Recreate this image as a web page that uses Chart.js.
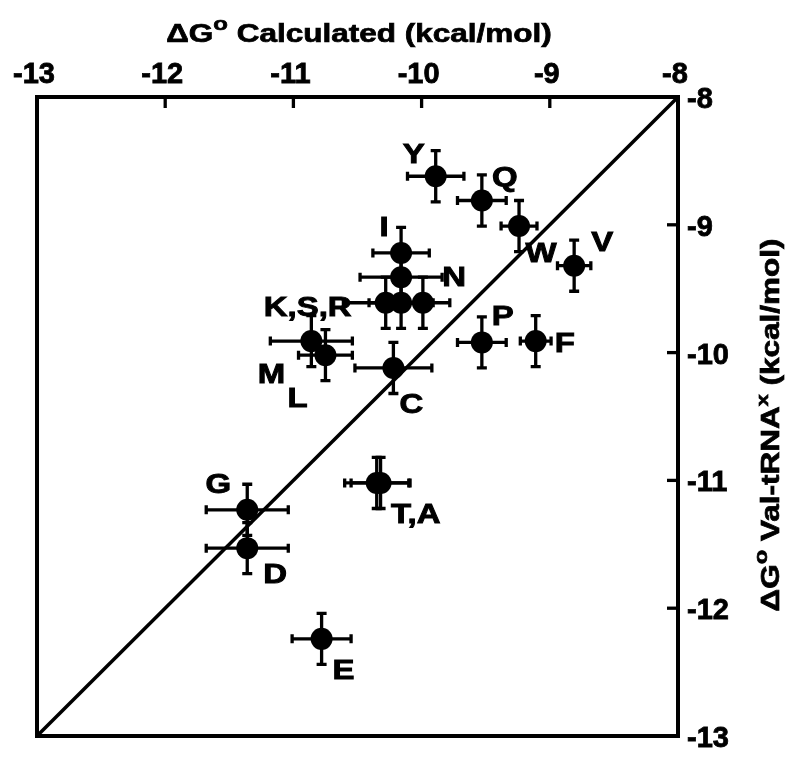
<!DOCTYPE html>
<html>
<head>
<meta charset="utf-8">
<script src="https://cdn.jsdelivr.net/npm/chart.js@4.4.1/dist/chart.umd.min.js"></script>
<style>
html,body{margin:0;padding:0;background:#fff;}
#wrap{width:800px;height:763px;position:relative;}
</style>
</head>
<body>
<div id="wrap"><canvas id="c" width="800" height="763"></canvas></div>
<script>
// ---- data ----
const residues   = ['Y','Q','W','V','I','N','K','S','R','M','L','C','P','F','G','D','T','A','E'];
const calcDG     = [-9.89,-9.53,-9.24,-8.81,-10.16,-10.16,-10.28,-10.16,-9.99,-10.86,-10.75,-10.22,-9.53,-9.11,-11.36,-11.36,-10.35,-10.32,-10.78];
const measuredDG = [-8.62,-8.81,-9.01,-9.32,-9.22,-9.41,-9.61,-9.61,-9.61,-9.91,-10.02,-10.12,-9.92,-9.91,-11.23,-11.53,-11.02,-11.02,-12.24];
const calcErr    = [0.22,0.19,0.14,0.13,0.22,0.32,0.33,0.25,0.21,0.32,0.21,0.30,0.19,0.12,0.32,0.32,0.25,0.23,0.23];
const measuredErr= [0.20,0.20,0.20,0.20,0.20,0.20,0.20,0.20,0.20,0.20,0.20,0.20,0.20,0.20,0.20,0.20,0.20,0.20,0.20];
const pointLabels= ['Y','Q','W','V','I','N','K,S,R','','','M','L','C','P','F','G','D','T,A','','E'];
const axisTicks  = [-13,-12,-11,-10,-9,-8];
const identityLine = [-13,-8];

// ---- layout (pixel offsets of labels from their point) ----
const labelOffsets = [[-22,-22],[23,-23],[22,27],[28,-23],[-17,-25],[53,0],[-78,5],[0,0],[0,0],[-40,33],[-28,43],[18,37],[21,-26],[29,2],[-29,-25],[28,26],[39,32],[0,0],[22,32]];
const FONT = '"Liberation Sans", Arial, Helvetica, sans-serif';
const STRETCH = 1.22;
const TITLE_STRETCH = 1.26;

const points = residues.map((r,i)=>({x:calcDG[i], y:measuredDG[i]}));
const linePts = identityLine.map(v=>({x:v,y:v}));

const errorBarPlugin = {
  id:'errorBars',
  afterDatasetsDraw(chart){
    const {ctx, scales:{x,y}} = chart;
    ctx.save();
    ctx.strokeStyle='#000';
    ctx.lineWidth=3.3;
    ctx.lineCap='butt';
    points.forEach((p,i)=>{
      const px=x.getPixelForValue(p.x), py=y.getPixelForValue(p.y);
      const x1=x.getPixelForValue(p.x-calcErr[i]), x2=x.getPixelForValue(p.x+calcErr[i]);
      const y1=y.getPixelForValue(p.y-measuredErr[i]), y2=y.getPixelForValue(p.y+measuredErr[i]);
      ctx.beginPath();
      ctx.moveTo(x1,py); ctx.lineTo(x2,py);
      ctx.moveTo(x1,py-4.5); ctx.lineTo(x1,py+4.5);
      ctx.moveTo(x2,py-4.5); ctx.lineTo(x2,py+4.5);
      ctx.moveTo(px,y1); ctx.lineTo(px,y2);
      ctx.moveTo(px-5,y1); ctx.lineTo(px+5,y1);
      ctx.moveTo(px-5,y2); ctx.lineTo(px+5,y2);
      ctx.stroke();
    });
    ctx.restore();
  }
};

const labelPlugin = {
  id:'pointLabels',
  afterDatasetsDraw(chart){
    const {ctx, scales:{x,y}} = chart;
    ctx.save();
    ctx.fillStyle='#000';
    ctx.strokeStyle='#000';
    ctx.lineWidth=0.9;
    ctx.font='bold 27px '+FONT;
    ctx.textAlign='center';
    ctx.textBaseline='middle';
    points.forEach((p,i)=>{
      if(!pointLabels[i]) return;
      const px=x.getPixelForValue(p.x)+labelOffsets[i][0];
      const py=y.getPixelForValue(p.y)+labelOffsets[i][1];
      ctx.save();
      ctx.translate(px,py);
      ctx.scale(STRETCH,1);
      ctx.fillText(pointLabels[i],0,1);
      ctx.strokeText(pointLabels[i],0,1);
      ctx.restore();
    });
    ctx.restore();
  }
};

const framePlugin = {
  id:'frame',
  afterDraw(chart){
    const {ctx, chartArea:a, scales:{x,y}} = chart;
    ctx.save();
    ctx.strokeStyle='#000';
    ctx.lineWidth=4;
    ctx.strokeRect(a.left,a.top,a.right-a.left,a.bottom-a.top);
    ctx.lineWidth=3.3;
    x.ticks.forEach(t=>{const px=x.getPixelForValue(t.value);ctx.beginPath();ctx.moveTo(px,a.top);ctx.lineTo(px,a.top+11);ctx.stroke();});
    y.ticks.forEach(t=>{const py=y.getPixelForValue(t.value);ctx.beginPath();ctx.moveTo(a.right,py);ctx.lineTo(a.right-11,py);ctx.stroke();});
    ctx.restore();
  }
};

function drawRich(ctx, parts, cx, baseY){
  let total=0;
  parts.forEach(p=>{ctx.font='bold '+p.size+'px '+FONT; p.w=ctx.measureText(p.t).width; total+=p.w;});
  ctx.save();
  ctx.translate(cx,baseY);
  ctx.scale(TITLE_STRETCH,1);
  let xx=-total/2;
  ctx.textAlign='left';
  ctx.textBaseline='alphabetic';
  ctx.lineWidth=0.7;
  parts.forEach(p=>{ctx.font='bold '+p.size+'px '+FONT; ctx.fillText(p.t,xx,p.dy||0); ctx.strokeText(p.t,xx,p.dy||0); xx+=p.w;});
  ctx.restore();
}

const titlePlugin = {
  id:'titles',
  afterDraw(chart){
    const {ctx} = chart;
    ctx.save();
    ctx.fillStyle='#000';
    ctx.strokeStyle='#000';
    drawRich(ctx,[{t:'\u0394G',size:25},{t:'o',size:19,dy:-12},{t:' Calculated (kcal/mol)',size:25}],359,42);
    ctx.save();
    ctx.translate(779,425);
    ctx.rotate(-Math.PI/2);
    drawRich(ctx,[{t:'\u0394G',size:25},{t:'o',size:19,dy:-12},{t:' Val-tRNA',size:25},{t:'x',size:17,dy:-11},{t:' (kcal/mol)',size:25}],0,0);
    ctx.restore();
    ctx.restore();
  }
};

new Chart(document.getElementById('c'),{
  type:'scatter',
  data:{datasets:[
    {type:'line',data:linePts,borderColor:'#000',borderWidth:3.5,pointRadius:0,fill:false,order:2},
    {data:points,backgroundColor:'#000',borderColor:'#000',borderWidth:0,pointRadius:11,pointHoverRadius:11,order:1}
  ]},
  options:{
    responsive:false,
    animation:false,
    devicePixelRatio:1,
    layout:{padding:{left:37,right:0,top:0,bottom:27}},
    plugins:{legend:{display:false},tooltip:{enabled:false},title:{display:false}},
    scales:{
      x:{type:'linear',position:'top',min:axisTicks[0],max:axisTicks[axisTicks.length-1],
        afterBuildTicks(s){s.ticks=axisTicks.map(v=>({value:v}));},
        ticks:{font:{family:FONT,size:29,weight:'bold'},color:'#000',padding:5,maxRotation:0,labelOffset:-3,textStrokeColor:'#000',textStrokeWidth:0.8},
        grid:{display:false,drawTicks:false},border:{display:false},
        afterFit(s){s.height=97;}},
      y:{type:'linear',position:'right',min:axisTicks[0],max:axisTicks[axisTicks.length-1],
        afterBuildTicks(s){s.ticks=axisTicks.map(v=>({value:v}));},
        ticks:{font:{family:FONT,size:29,weight:'bold'},color:'#000',padding:9,labelOffset:3,textStrokeColor:'#000',textStrokeWidth:0.8},
        grid:{display:false,drawTicks:false},border:{display:false},
        afterFit(s){s.width=122;}}
    }
  },
  plugins:[errorBarPlugin,labelPlugin,framePlugin,titlePlugin]
});
</script>
</body>
</html>
